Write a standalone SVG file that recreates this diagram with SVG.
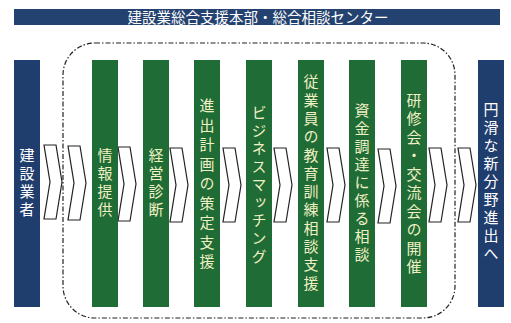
<svg xmlns="http://www.w3.org/2000/svg" width="511" height="323" viewBox="0 0 511 323">
<defs>
<style>
.bg{fill:#ffffff}
.banner{fill:#24426f}
.title{font-family:"Noto Sans CJK JP","Noto Sans",sans-serif;font-size:14.5px;fill:#ffffff;text-anchor:middle}
.blue{fill:#1f3d6d}
.green{fill:#1f6c36}
.vt{font-family:"Noto Sans CJK JP",sans-serif;font-size:15px;writing-mode:vertical-rl;text-anchor:middle;letter-spacing:3px}
.vb{fill:#ffffff}
.vg{fill:#f1f0c4}
.chev{fill:#ffffff;stroke:#222222;stroke-width:1.2;stroke-linejoin:miter}
.frame{fill:none;stroke:#222222;stroke-width:1.2;stroke-dasharray:5 2 1.5 2}
</style>
<path id="chv" d="M0,0 L12,0 L18,37 L12,74 L0,74 L6,37 Z"/>
</defs>
<rect class="bg" x="0" y="0" width="511" height="323"/>
<g id="title">
<rect class="banner" x="14" y="9" width="486" height="16"/>
<text class="title" x="258" y="22.5">建設業総合支援本部・総合相談センター</text>
</g>
<g id="frame">
<rect class="frame" x="63" y="43" width="392" height="275" rx="32" ry="32"/>
</g>
<g id="connectors">
<use href="#chv" class="chev" x="44" y="145"/>
<use href="#chv" class="chev" x="68" y="146"/>
<use href="#chv" class="chev" x="118" y="147"/>
<use href="#chv" class="chev" x="170" y="148"/>
<use href="#chv" class="chev" x="223" y="148"/>
<use href="#chv" class="chev" x="274" y="148"/>
<use href="#chv" class="chev" x="327" y="148"/>
<use href="#chv" class="chev" x="378" y="149"/>
<use href="#chv" class="chev" x="429" y="148"/>
<use href="#chv" class="chev" x="458" y="148"/>
</g>
<g id="n-kensetsu">
<rect class="blue" x="14" y="60" width="26" height="247"/>
<text class="vt vb" x="27" y="184">建設業者</text>
</g>
<g id="n-joho">
<rect class="green" x="92" y="60" width="26" height="247"/>
<text class="vt vg" x="105" y="184">情報提供</text>
</g>
<g id="n-keiei">
<rect class="green" x="143" y="60" width="26" height="247"/>
<text class="vt vg" x="156" y="184">経営診断</text>
</g>
<g id="n-shinshutsu">
<rect class="green" x="194" y="60" width="26" height="247"/>
<text class="vt vg" x="207" y="186" style="letter-spacing:4.5px">進出計画の策定支援</text>
</g>
<g id="n-business">
<rect class="green" x="246" y="60" width="26" height="247"/>
<text class="vt vg" x="259" y="186">ビジネスマッチング</text>
</g>
<g id="n-jugyoin">
<rect class="green" x="298" y="60" width="26" height="247"/>
<text class="vt vg" x="311" y="184" style="letter-spacing:3.3px">従業員の教育訓練相談支援</text>
</g>
<g id="n-shikin">
<rect class="green" x="349" y="60" width="26" height="247"/>
<text class="vt vg" x="362" y="184">資金調達に係る相談</text>
</g>
<g id="n-kenshu">
<rect class="green" x="401" y="60" width="26" height="247"/>
<text class="vt vg" x="414" y="185" style="letter-spacing:3.5px">研修会・交流会の開催</text>
</g>
<g id="n-enkatsu">
<rect class="blue" x="478" y="60" width="26" height="247"/>
<text class="vt vb" x="491" y="183">円滑な新分野進出へ</text>
</g>
</svg>
